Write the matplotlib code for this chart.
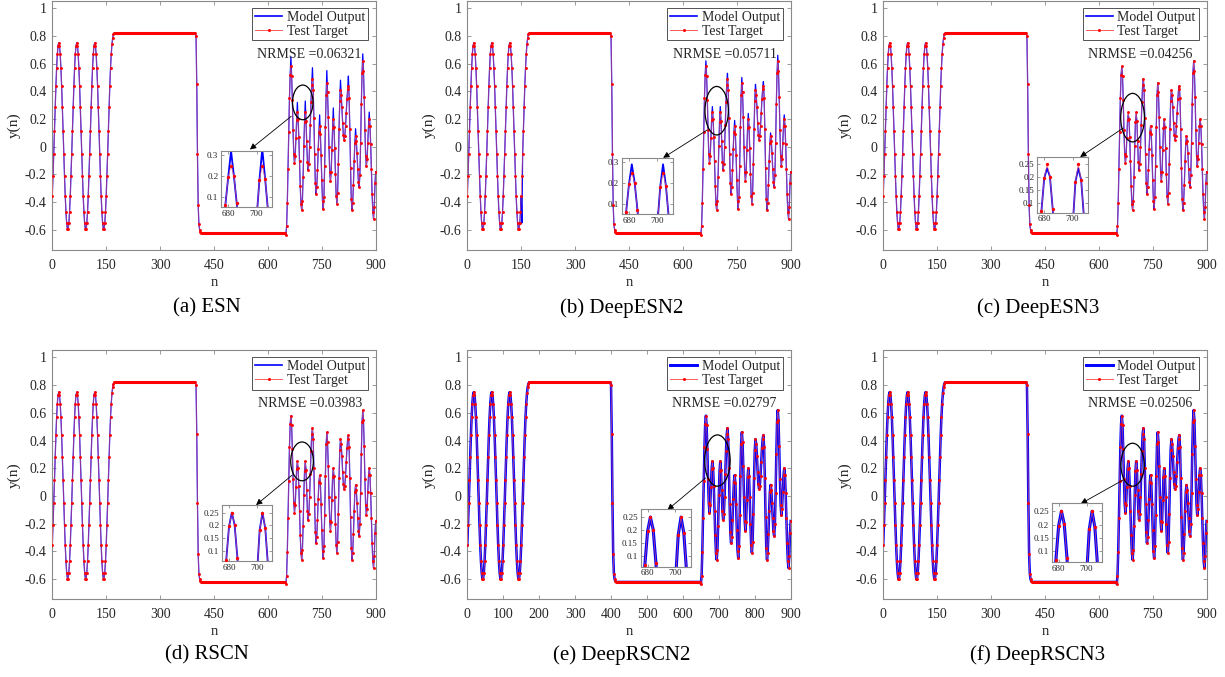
import numpy as np
import matplotlib
matplotlib.use('Agg')
import matplotlib.pyplot as plt
from matplotlib.patches import Ellipse
from matplotlib.lines import Line2D
from matplotlib.ticker import FuncFormatter

plt.rcParams['font.family'] = ['Liberation Serif', 'DejaVu Serif']

# ── Test target (samples every 2 steps of n) ──────────────────────────────────

# n = 0, 2, ..., 170 : three sine periods then the rise to the high plateau
TARGET_HEAD = [
    -0.355, -0.212, -0.052, 0.117, 0.284, 0.437, 0.567, 0.667, 0.729,
    0.75, 0.729, 0.667, 0.567, 0.437, 0.284, 0.117, -0.052, -0.212, -0.355, -0.471, -0.553, -0.595,
    -0.595, -0.553, -0.471, -0.355, -0.212, -0.052, 0.117, 0.284, 0.437, 0.567, 0.667, 0.729,
    0.75, 0.729, 0.667, 0.567, 0.437, 0.284, 0.117, -0.052, -0.212, -0.355, -0.471, -0.553, -0.595,
    -0.595, -0.553, -0.471, -0.355, -0.212, -0.052, 0.117, 0.284, 0.437, 0.567, 0.667, 0.729,
    0.75, 0.729, 0.667, 0.567, 0.437, 0.284, 0.117, -0.052, -0.212, -0.355, -0.471, -0.553, -0.595,
    -0.595, -0.553, -0.471, -0.355, -0.212, -0.052, 0.117, 0.284, 0.437, 0.567, 0.667, 0.74,
    0.785, 0.81,
]
HIGH_LEVEL = 0.82
HIGH_SPAN = [172, 398]
# n = 400, 402, ..., 414
TARGET_DROP = [0.80, 0.45, -0.05, -0.42, -0.56, -0.60, -0.615, -0.62]
LOW_LEVEL = -0.62
LOW_SPAN = [416, 648]
# n = 650, 652, ..., 900
TARGET_TAIL = [
    -0.635, -0.575, -0.407, -0.162, 0.107, 0.352, 0.52, 0.58,
    0.513, 0.339, 0.122, -0.053, -0.12,
    -0.066, 0.065, 0.196, 0.25,
    0.202, 0.073, -0.105, -0.283, -0.412, -0.46,
    -0.392, -0.215, 0.005, 0.182, 0.25,
    0.189, 0.04, -0.109, -0.17,
    -0.126, -0.005, 0.16, 0.325, 0.446, 0.49,
    0.411, 0.204, -0.054, -0.261, -0.34,
    -0.293, -0.171, -0.019, 0.103, 0.15,
    0.093, -0.057, -0.243, -0.393, -0.45,
    -0.363, -0.136, 0.146, 0.373, 0.46,
    0.392, 0.215, -0.005, -0.182, -0.25,
    -0.184, -0.025, 0.134, 0.2,
    0.142, -0.01, -0.2, -0.352, -0.41,
    -0.332, -0.127, 0.127, 0.332, 0.41,
    0.376, 0.286, 0.174, 0.084, 0.05,
    0.076, 0.148, 0.245, 0.343, 0.414, 0.44,
    0.354, 0.13, -0.15, -0.374, -0.46,
    -0.408, -0.274, -0.106, 0.028, 0.08,
    0.045, -0.048, -0.162, -0.255, -0.29,
    -0.203, 0.024, 0.306, 0.533, 0.62,
    0.547, 0.358, 0.122, -0.067, -0.14,
    -0.09, 0.03, 0.15, 0.2,
    0.152, 0.02, -0.16, -0.34, -0.472, -0.52,
    -0.435, -0.265, -0.18,
]

# ── Model output: where it departs from the target (peaks of the test part) ──
PEAK_N = [664, 682, 704, 724, 744, 764, 782, 802, 824, 844, 864, 882]
ESN_PEAKS      = [0.65, 0.32, 0.33, 0.57, 0.23, 0.55, 0.28, 0.48, 0.51, 0.13, 0.67, 0.25]
DEEPESN2_PEAKS = [0.62, 0.29, 0.29, 0.53, 0.19, 0.50, 0.24, 0.45, 0.47, 0.10, 0.66, 0.23]
DEEPESN3_PEAKS = [0.58, 0.235, 0.235, 0.49, 0.15, 0.46, 0.20, 0.41, 0.44, 0.08, 0.62, 0.20]
DEEPESN2_GLITCH = (152, -0.55)

TITLES = ['(a) ESN', '(b) DeepESN2', '(c) DeepESN3', '(d) RSCN', '(e) DeepRSCN2', '(f) DeepRSCN3']
NRMSE  = ['0.06321', '0.05711', '0.04256', '0.03983', '0.02797', '0.02506']
PEAKS  = [ESN_PEAKS, DEEPESN2_PEAKS, DEEPESN3_PEAKS, None, None, None]
X_STEP = [150, 150, 150, 150, 100, 150]

# ── Layout (pixels of the 1225x677 reference) ────────────────────────────────
W, H = 1225, 677
COL_X = [52.3, 467.3, 883.2]
AX_W, AX_H = 323.4, 248.8
ROW_BOTTOM = [250, 599.3]
CAPTION_Y = [308, 655]
BLUE_LW = [0.9, 0.9, 0.9, 0.9, 1.8, 1.8]

INSET_RECT = [(0.522, 0.173, 0.158, 0.225), (0.478, 0.145, 0.158, 0.225),
              (0.476, 0.150, 0.158, 0.225), (0.525, 0.154, 0.155, 0.225),
              (0.536, 0.131, 0.155, 0.231), (0.521, 0.151, 0.155, 0.235)]
INSET_YLIM = [(0.055, 0.32), (0.055, 0.32), (0.06, 0.28), (0.06, 0.28), (0.06, 0.28), (0.06, 0.28)]
INSET_YTICKS = [[0.1, 0.2, 0.3], [0.1, 0.2, 0.3]] + [[0.1, 0.15, 0.2, 0.25]] * 4
ELLIPSE = [(697, 0.32, 57, 0.25), (694, 0.26, 65, 0.35), (694, 0.21, 66, 0.35),
           (695, 0.25, 63, 0.28), (696, 0.256, 71, 0.37), (694, 0.226, 65, 0.31)]
ARROW = [((665, 0.22), (550, -0.02)), ((667, 0.12), (545, -0.08)),
         ((668, 0.135), (548, -0.074)), ((667, 0.15), (567, -0.065)),
         ((663, 0.13), (557, -0.10)), ((667, 0.115), (550, -0.055))]

FRAME = '#8a8a8a'
TXT = '#262626'
RED_LINE = '#ff5a5a'

# ── Assemble series ──────────────────────────────────────────────────────────
n_all = np.concatenate([np.arange(0, 171, 2), HIGH_SPAN, np.arange(400, 415, 2),
                        LOW_SPAN, np.arange(650, 901, 2)]).astype(float)
target = np.concatenate([TARGET_HEAD, [HIGH_LEVEL, HIGH_LEVEL], TARGET_DROP,
                         [LOW_LEVEL, LOW_LEVEL], TARGET_TAIL])


def model_output(i):
    out = target.copy()
    if PEAKS[i] is not None:
        for n, v in zip(PEAK_N, PEAKS[i]):
            out[n_all == n] = v
    if i == 1:
        out[n_all == DEEPESN2_GLITCH[0]] = DEEPESN2_GLITCH[1]
    return out


def draw_series(ax, out, lw_blue, ms):
    ax.plot(n_all, out, color='blue', lw=lw_blue, zorder=2)
    ax.plot(n_all, target, color=RED_LINE, lw=0.5, alpha=0.8, zorder=3)
    ax.plot(n_all, target, ls='none', marker='o', ms=ms, mec='none', mfc='red', zorder=3)
    for span, lvl in ((HIGH_SPAN, HIGH_LEVEL), (LOW_SPAN, LOW_LEVEL)):
        ax.plot(span, [lvl, lvl], color='red', lw=2.2, solid_capstyle='butt', zorder=3)


def style_axes(ax, fs):
    for s in ax.spines.values():
        s.set_color(FRAME); s.set_linewidth(0.8)
    ax.tick_params(direction='in', top=True, right=True, length=3, width=0.6,
                   color=FRAME, labelcolor=TXT, labelsize=fs)
    fmt = FuncFormatter(lambda v, _: '%g' % round(v, 3))
    ax.xaxis.set_major_formatter(fmt); ax.yaxis.set_major_formatter(fmt)


fig = plt.figure(figsize=(W / 100, H / 100), dpi=100)

for i in range(6):
    r, c = divmod(i, 3)
    ax = fig.add_axes([COL_X[c] / W, 1 - ROW_BOTTOM[r] / H, AX_W / W, AX_H / H])
    out = model_output(i)
    draw_series(ax, out, BLUE_LW[i], 2.1)
    ax.set_xlim(0, 900); ax.set_ylim(-0.745, 1.05)
    ax.set_xticks(np.arange(0, 901, X_STEP[i]))
    ax.set_yticks(np.round(np.arange(-0.6, 1.01, 0.2), 1))
    style_axes(ax, 10)
    ax.tick_params(axis='x', pad=6.5); ax.tick_params(axis='y', pad=4)
    ax.set_xlabel('n', fontsize=10.5, color=TXT, labelpad=3)
    ax.set_ylabel('y(n)', fontsize=11, color=TXT, labelpad=3)

    handles = [Line2D([], [], color='blue', lw=BLUE_LW[i] + 0.3),
               Line2D([], [], color=RED_LINE, lw=0.7, marker='o', ms=2.2, mfc='red', mec='none')]
    leg = ax.legend(handles, ['Model Output', 'Test Target'], loc='upper right',
                    bbox_to_anchor=(0.975, 0.972), fontsize=10, frameon=True,
                    fancybox=False, borderpad=0.2, labelspacing=0.05,
                    handlelength=2.0, handletextpad=0.3, borderaxespad=0, numpoints=1)
    leg.get_frame().set_edgecolor(TXT); leg.get_frame().set_linewidth(0.7)
    for t in leg.get_texts():
        t.set_color(TXT)

    ax.text(0.957, 0.787, 'NRMSE =' + NRMSE[i], transform=ax.transAxes,
            ha='right', va='center', fontsize=10, color=TXT)

    cx, cy, ew, eh = ELLIPSE[i]
    ax.add_patch(Ellipse((cx, cy), ew, eh, fill=False, edgecolor='black', lw=0.9, zorder=5))
    (tx, ty), (hx, hy) = ARROW[i]
    ax.annotate('', xy=(hx, hy), xytext=(tx, ty),
                arrowprops=dict(arrowstyle='-|>', color='black', lw=0.6,
                                mutation_scale=9, shrinkA=0, shrinkB=0), zorder=5)

    ins = ax.inset_axes(INSET_RECT[i])
    draw_series(ins, out, BLUE_LW[i] + 0.4, 2.4)
    ins.set_xlim(675, 711); ins.set_ylim(*INSET_YLIM[i])
    ins.set_xticks([680, 700]); ins.set_yticks(INSET_YTICKS[i])
    style_axes(ins, 6.5)
    ins.tick_params(length=2, pad=2)
    ins.set_facecolor('white'); ins.set_zorder(6)

    cap_x = (COL_X[c] + AX_W / 2 - 7) / W
    fig.text(cap_x, 1 - CAPTION_Y[r] / H, TITLES[i], ha='center', va='center',
             fontsize=15, color='black')

fig.savefig('out.png', dpi=100)
